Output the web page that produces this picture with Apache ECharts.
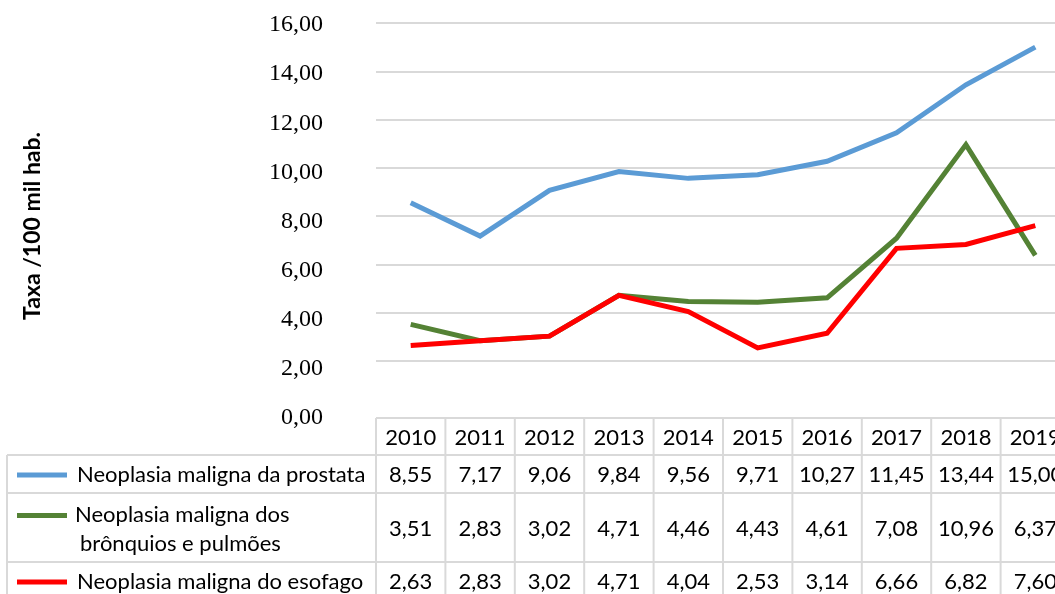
<!DOCTYPE html>
<html>
<head>
<meta charset="utf-8">
<script src="https://cdn.jsdelivr.net/npm/echarts@6/dist/echarts.min.js"></script>
<style>
  html, body { margin: 0; padding: 0; background: #fff; }
  #charts { width: 1055px; height: 594px; }
</style>
</head>
<body>
<div id="charts"></div>
<script>
// data
const years = ['2010', '2011', '2012', '2013', '2014', '2015', '2016', '2017', '2018', '2019'];
const prostata = [8.55, 7.17, 9.06, 9.84, 9.56, 9.71, 10.27, 11.45, 13.44, 15.00];
const bronquios = [3.51, 2.83, 3.02, 4.71, 4.46, 4.43, 4.61, 7.08, 10.96, 6.37];
const esofago = [2.63, 2.83, 3.02, 4.71, 4.04, 2.53, 3.14, 6.66, 6.82, 7.60];
const seriesNames = ['Neoplasia maligna da prostata', 'Neoplasia maligna dos\nbrônquios e pulmões', 'Neoplasia maligna do esofago'];
const seriesColors = ['#5b9bd5', '#548235', '#ff0000'];
const yName = 'Taxa /100 mil hab.';
const yMin = 0;
const yMax = 16;
const yStep = 2;

const fmt = (v) => v.toFixed(2).replace('.', ',');
const allSeries = [prostata, bronquios, esofago];
const gridColor = '#d9d9d9';
const tableFont = 'Lato';
const tableSize = 22;

let myChart = echarts.init(document.querySelector('#charts'));
myChart.setOption({
  animation: false,
  // plot runs past the right edge like the source, so no containment
  // second grid only carries the tick labels, which sit a bit lower in the source
  grid: [
    { left: 376, top: 23, width: 694, height: 386, outerBoundsMode: 'none', containLabel: false },
    { left: 376, top: 25, width: 694, height: 393, outerBoundsMode: 'none', containLabel: false }
  ],
  xAxis: [0, 1].map((g) => ({
    type: 'category',
    gridIndex: g,
    data: years,
    boundaryGap: true,
    axisLine: { show: false },
    axisTick: { show: false },
    axisLabel: { show: false }
  })),
  yAxis: [
    {
      type: 'value',
      gridIndex: 0,
      min: yMin,
      max: yMax,
      interval: yStep,
      axisLine: { show: false },
      axisTick: { show: false },
      axisLabel: { show: false },
      // the 0 line is the table border, so keep the first one hidden
      splitLine: {
        lineStyle: {
          width: 2,
          color: ['rgba(0,0,0,0)', gridColor, gridColor, gridColor, gridColor, gridColor, gridColor, gridColor, gridColor]
        }
      }
    },
    {
      type: 'value',
      gridIndex: 1,
      min: yMin,
      max: yMax,
      interval: yStep,
      axisLine: { show: false },
      axisTick: { show: false },
      splitLine: { show: false },
      axisLabel: {
        margin: 53,
        fontFamily: 'Liberation Serif',
        fontSize: 24,
        color: '#000',
        formatter: (v) => fmt(v)
      }
    }
  ],
  series: allSeries.map((d, i) => ({
    name: seriesNames[i],
    type: 'line',
    data: d,
    symbol: 'none',
    lineStyle: { width: 5, color: seriesColors[i], join: 'miter' },
    itemStyle: { color: seriesColors[i] }
  }))
});

// data table under the plot
const drawTable = () => {
  const colX = years.map((y) => myChart.convertToPixel({ xAxisIndex: 0 }, y));
  const colW = colX[1] - colX[0];
  const left = colX[0] - colW / 2;
  const right = 1055;
  const rows = [418, 455, 493, 562, 600]; // header, prostata, bronquios, esofago, bottom
  const legendLeft = 7;
  const lineStyle = { stroke: gridColor, lineWidth: 2 };
  const font = `${tableSize}px ${tableFont}`;
  let els = [];

  // y axis title
  els.push({
    type: 'text', x: 33, y: 226, rotation: Math.PI / 2,
    style: { text: yName, font: `bold 23px ${tableFont}`, fill: '#000', align: 'center', verticalAlign: 'middle' }
  });

  // horizontal borders
  els.push({ type: 'line', shape: { x1: left, y1: rows[0], x2: right, y2: rows[0] }, style: lineStyle });
  for (let r = 1; r < 4; r++) {
    els.push({ type: 'line', shape: { x1: legendLeft, y1: rows[r], x2: right, y2: rows[r] }, style: lineStyle });
  }
  // vertical borders
  els.push({ type: 'line', shape: { x1: legendLeft, y1: rows[1], x2: legendLeft, y2: rows[4] }, style: lineStyle });
  for (let c = 0; c <= years.length; c++) {
    const x = left + c * colW;
    els.push({ type: 'line', shape: { x1: x, y1: rows[0], x2: x, y2: rows[4] }, style: lineStyle });
  }
  // header
  years.forEach((y, c) => {
    els.push({
      type: 'text', x: colX[c], y: (rows[0] + rows[1]) / 2 + 1,
      style: { text: y, font, fill: '#000', align: 'center', verticalAlign: 'middle' }
    });
  });
  // rows with legend keys and values
  allSeries.forEach((d, r) => {
    const cy = (rows[r + 1] + rows[r + 2]) / 2 + 1;
    const keyY = r === 1 ? cy - 13 : cy;
    els.push({ type: 'line', shape: { x1: 17, y1: keyY, x2: 67, y2: keyY }, style: { stroke: seriesColors[r], lineWidth: 5 } });
    const parts = seriesNames[r].split('\n');
    if (parts.length === 1) {
      els.push({
        type: 'text', x: 77, y: cy,
        style: { text: parts[0], font, fill: '#000', align: 'left', verticalAlign: 'middle' }
      });
    } else {
      els.push({
        type: 'text', x: 75, y: cy - 14,
        style: { text: parts[0], font, fill: '#000', align: 'left', verticalAlign: 'middle' }
      });
      els.push({
        type: 'text', x: 80, y: cy + 15,
        style: { text: parts[1], font, fill: '#000', align: 'left', verticalAlign: 'middle' }
      });
    }
    d.forEach((v, c) => {
      els.push({
        type: 'text', x: colX[c], y: cy,
        style: { text: fmt(v), font, fill: '#000', align: 'center', verticalAlign: 'middle' }
      });
    });
  });

  myChart.setOption({ graphic: { elements: els } });
};

drawTable();
</script>
</body>
</html>
